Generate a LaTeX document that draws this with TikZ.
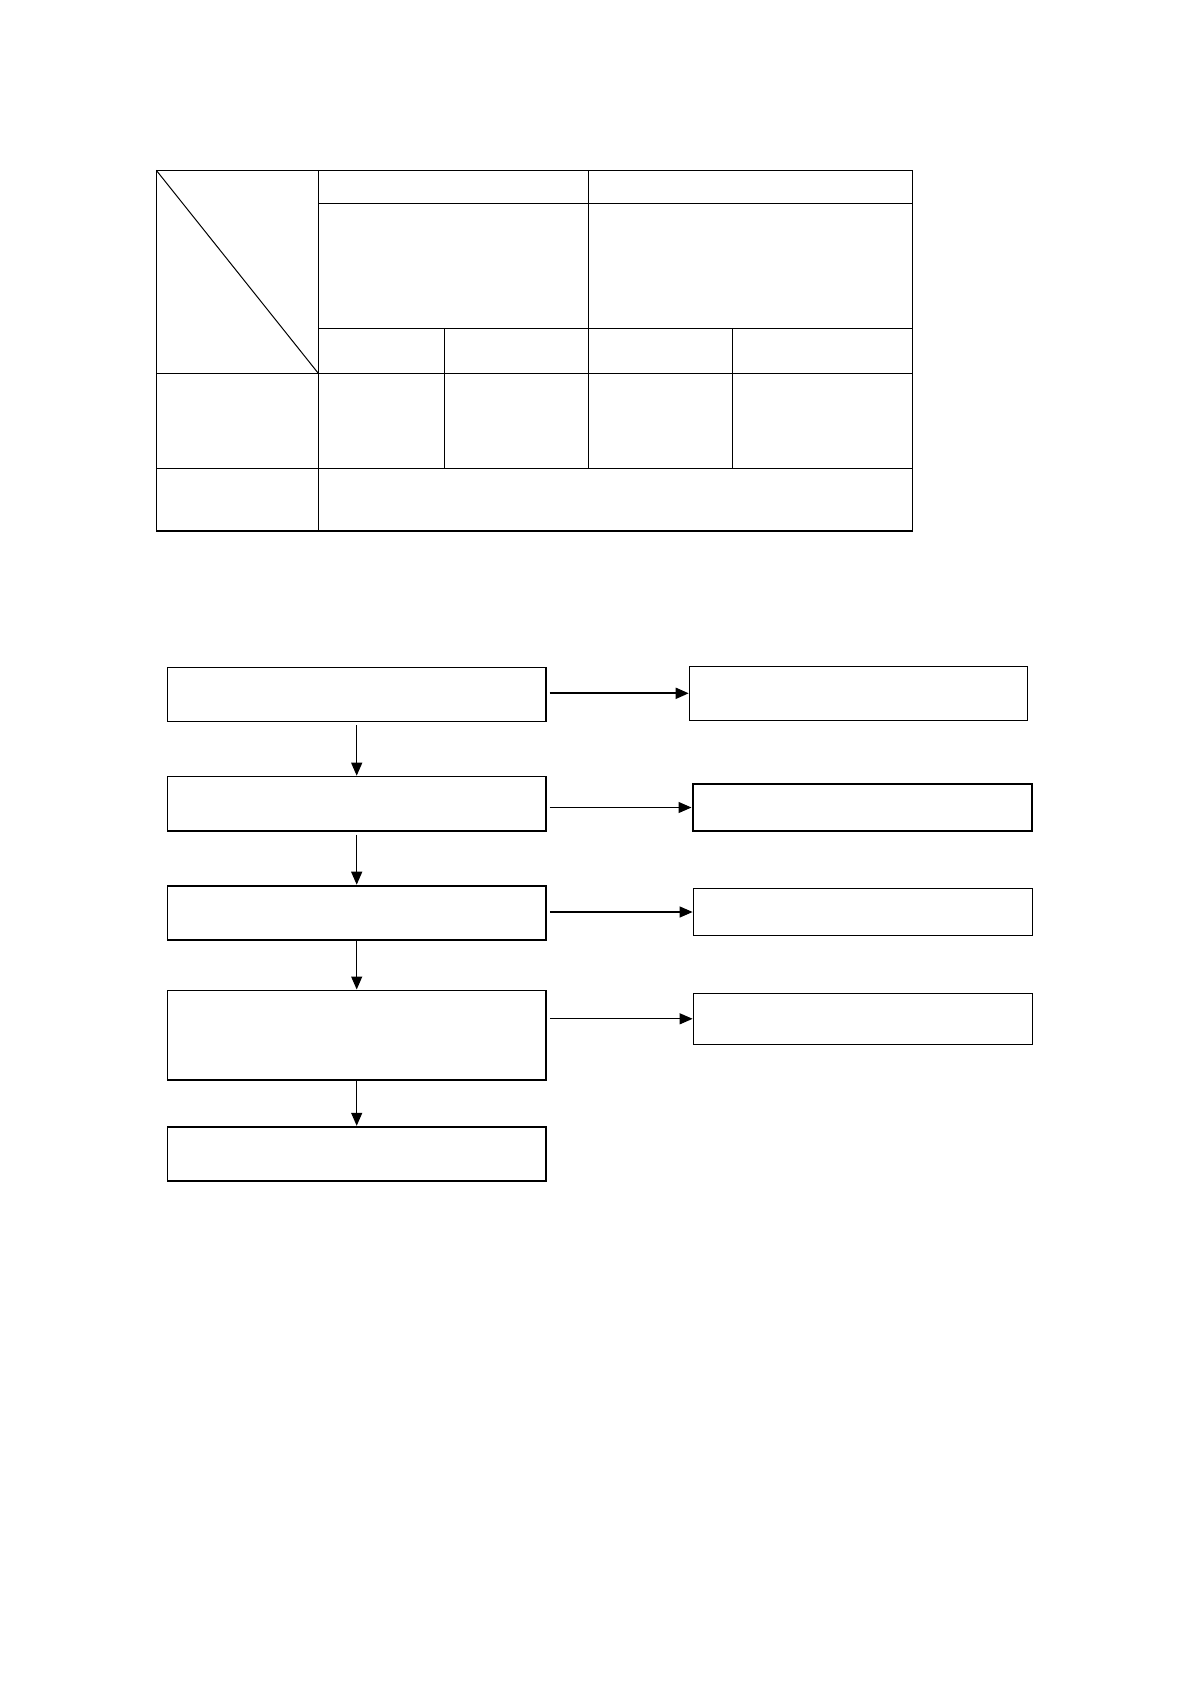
\documentclass[tikz,border=0pt]{standalone}
\usepackage{tikz}
\usetikzlibrary{arrows.meta}

\tikzset{
    stage/.style={draw, line width=0.7pt, inner sep=0pt, minimum width=189.3pt},
    result/.style={draw, line width=0.7pt, inner sep=0pt, minimum width=169.5pt},
    flow/.style={-{Triangle[length=6.5pt,width=5.5pt]}, line width=0.6pt}
}

\begin{document}
\begin{tikzpicture}[x=0.5pt, y=-0.5pt]
        \useasboundingbox (0,0) rectangle (1190,1684);

        % table
        \draw [line width=0.6pt] (156.3,170.3) rectangle (912.3,531);
        \draw [line width=0.6pt] (318.3,170.3) -- (318.3,531);
        \draw [line width=0.6pt] (588.3,170.3) -- (588.3,468.3);
        \draw [line width=0.6pt] (318.3,203.3) -- (912.3,203.3);
        \draw [line width=0.6pt] (318.3,328.3) -- (912.3,328.3);
        \draw [line width=0.6pt] (156.3,373.3) -- (912.3,373.3);
        \draw [line width=0.6pt] (156.3,468.3) -- (912.3,468.3);
        \draw [line width=0.6pt] (444.3,328.3) -- (444.3,468.3);
        \draw [line width=0.6pt] (732.3,328.3) -- (732.3,468.3);
        \draw [line width=0.5pt] (156.3,170.3) -- (318.3,373.3);

        % flow
        \node [stage, minimum height=27pt] (s1) at (356.7,694.3) {};
        \node [stage, minimum height=27.3pt] (s2) at (356.7,803.7) {};
        \node [stage, minimum height=27.2pt, line width=0.9pt] (s3) at (356.7,912.8) {};
        \node [stage, minimum height=44.8pt, line width=0.9pt] (s4) at (356.7,1035.2) {};
        \node [stage, minimum height=27.3pt, line width=0.9pt] (s5) at (356.7,1154) {};

        \node [result, minimum height=27pt, minimum width=169.2pt, line width=0.6pt] (r1) at (858.5,693.3) {};
        \node [result, minimum height=23.5pt, line width=1pt] (r2) at (862,807.5) {};
        \node [result, minimum height=23.3pt] (r3) at (862.8,912) {};
        \node [result, minimum height=25.5pt] (r4) at (862.8,1018.8) {};

        \draw [flow, shorten <=1.7pt] (s1.south) -- (s2.north);
        \draw [flow, shorten <=1.5pt] (s2.south) -- (s3.north);
        \draw [flow] (s3.south) -- (s4.north);
        \draw [flow] (s4.south) -- (s5.north);

        \draw [flow, line width=0.9pt, shorten <=1.5pt] (s1.east |- r1.west) -- (r1.west);
        \draw [flow, shorten <=1.5pt] (s2.east |- r2.west) -- (r2.west);
        \draw [flow, shorten <=1.5pt] (s3.east |- r3.west) -- (r3.west);
        \draw [flow, shorten <=1.5pt] (s4.east |- r4.west) -- (r4.west);

    \end{tikzpicture}
\end{document}
